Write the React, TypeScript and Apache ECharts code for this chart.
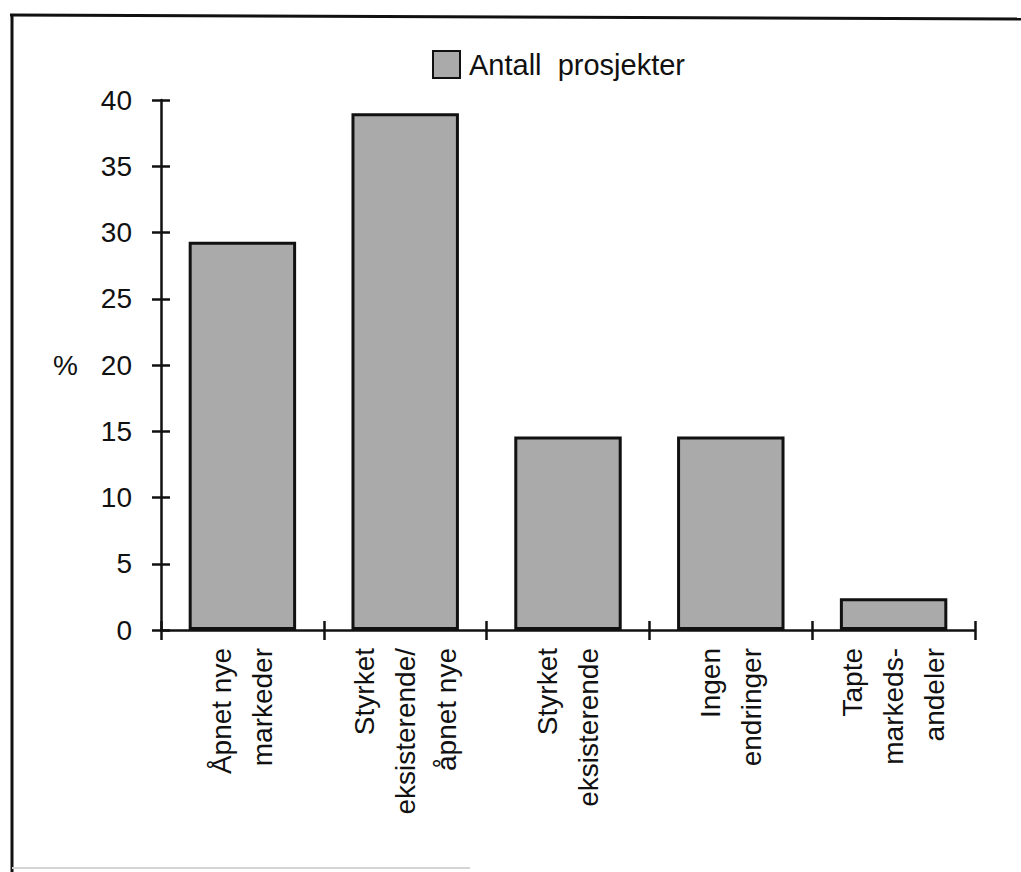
import React, { useEffect, useRef } from "react";
import * as echarts from "echarts";

// Share of projects per market outcome (%)
const categories = [
  "Åpnet nye\nmarkeder",
  "Styrket\neksisterende/\nåpnet nye",
  "Styrket\neksisterende",
  "Ingen\nendringer",
  "Tapte\nmarkeds-\nandeler",
];
const shares = [29.3, 39.0, 14.6, 14.6, 2.4];
const seriesName = "Antall  prosjekter";
const yMin = 0;
const yMax = 40;
const yStep = 5;

const FONT = "'Liberation Sans', Arial, Helvetica, sans-serif";
const INK = "#111";

export default function App() {
  const ref = useRef<HTMLDivElement>(null);

  useEffect(() => {
    if (!ref.current) return;
    const chart = echarts.init(ref.current, null, { renderer: "svg" });

    const valueAxisBase = {
      type: "value" as const,
      min: yMin,
      max: yMax,
      interval: yStep,
      splitLine: { show: false },
    };
    const catAxisBase = {
      type: "category" as const,
      data: categories,
      position: "bottom" as const,
    };

    chart.setOption({
      animation: false,
      backgroundColor: "#fff",
      textStyle: { fontFamily: FONT },
      legend: {
        left: 427,
        top: 45,
        icon: "rect",
        itemWidth: 27,
        itemHeight: 27,
        textStyle: { fontSize: 29, color: INK, fontFamily: FONT, padding: [0, 0, 0, 4] },
        data: [seriesName],
      },
      grid: { left: 161, right: 46, top: 100, bottom: 242, containLabel: false },
      xAxis: [
        {
          ...catAxisBase,
          axisLine: { lineStyle: { color: INK, width: 2.5 } },
          axisTick: { show: true, length: 10, lineStyle: { color: INK, width: 2.5 } },
          axisLabel: {
            rotate: 90,
            interval: 0,
            margin: 18,
            fontSize: 28,
            lineHeight: 41,
            color: INK,
            fontFamily: FONT,
          },
        },
        {
          ...catAxisBase,
          axisLine: { show: false },
          axisTick: { show: true, inside: true, length: 9, lineStyle: { color: INK, width: 2.5 } },
          axisLabel: { show: false },
        },
      ],
      yAxis: [
        {
          ...valueAxisBase,
          name: "%",
          nameLocation: "middle",
          nameRotate: 0,
          nameGap: 83,
          nameTextStyle: { fontSize: 28, color: INK, fontFamily: FONT, align: "right" },
          axisLine: { show: true, lineStyle: { color: INK, width: 2.5 } },
          axisTick: { show: true, length: 9, lineStyle: { color: INK, width: 2.5 } },
          axisLabel: { margin: 29, fontSize: 28, color: INK, fontFamily: FONT },
        },
        {
          ...valueAxisBase,
          position: "left",
          axisLine: { show: false },
          axisTick: { show: true, inside: true, length: 9, lineStyle: { color: INK, width: 2.5 } },
          axisLabel: { show: false },
        },
      ],
      series: [
        {
          name: seriesName,
          type: "bar",
          data: shares,
          barCategoryGap: "34%",
          itemStyle: { color: "#aaaaaa", borderColor: INK, borderWidth: 3 },
        },
      ],
      graphic: [
        // frame around the figure
        {
          type: "line",
          shape: { x1: 10, y1: 15, x2: 1021, y2: 19 },
          style: { stroke: INK, lineWidth: 3 },
        },
        {
          type: "line",
          shape: { x1: 12, y1: 14, x2: 12, y2: 872 },
          style: { stroke: INK, lineWidth: 3 },
        },
        {
          type: "line",
          shape: { x1: 12, y1: 868, x2: 470, y2: 868 },
          style: { stroke: "#d4d4d4", lineWidth: 2 },
        },
      ],
    });

    return () => chart.dispose();
  }, []);

  return (
    <div
      ref={ref}
      style={{ position: "absolute", left: 0, top: 0, width: 1021, height: 872 }}
    />
  );
}
